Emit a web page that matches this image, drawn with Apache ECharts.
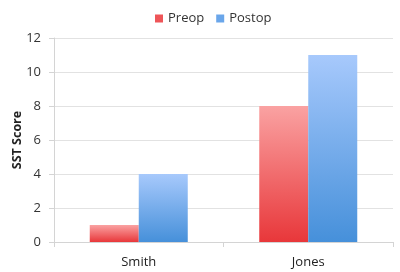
<!DOCTYPE html>
<html><head><meta charset="utf-8">
<script src="https://cdn.jsdelivr.net/npm/echarts@6/dist/echarts.min.js"></script>
<style>html,body{margin:0;padding:0;background:#fff}#c{width:400px;height:272px}</style>
</head><body><div id="c"></div>
<script>
const categories = ["Smith", "Jones"];
const seriesNames = ["Preop", "Postop"];
const preop = [1, 8];
const postop = [4, 11];
const yTicks = [0, 2, 4, 6, 8, 10, 12];

const grad = (top, bottom) => new echarts.graphic.LinearGradient(0, 0, 0, 1, [
  {offset: 0, color: top}, {offset: 1, color: bottom}
]);
const redG = grad('#faa2a2', '#e8373a');
const blueG = grad('#a7c9fc', '#4690da');
const font = '"Open Sans", sans-serif';

const chart = echarts.init(document.getElementById('c'), null, {renderer: 'canvas'});
chart.setOption({
  animation: false,
  textStyle: {fontFamily: font},
  legend: {
    top: 7, left: 150, itemWidth: 8, itemHeight: 8, itemGap: 12,
    icon: 'rect',
    textStyle: {fontSize: 13, color: '#333', fontFamily: font},
    data: [
      {name: seriesNames[0], itemStyle: {color: '#ee5558'}},
      {name: seriesNames[1], itemStyle: {color: '#6aa6ea'}}
    ]
  },
  grid: {left: 54, right: 7, top: 38, bottom: 30, containLabel: false, outerBoundsMode: 'none'},
  xAxis: {
    type: 'category', data: categories,
    axisLine: {lineStyle: {color: '#d4d4d4'}},
    axisTick: {show: true, alignWithLabel: false, length: 5, lineStyle: {color: '#d4d4d4'}},
    axisLabel: {fontSize: 13, color: '#222', margin: 14, fontFamily: font}
  },
  yAxis: {
    type: 'value', min: yTicks[0], max: yTicks[yTicks.length - 1], interval: 2,
    name: 'SST Score', nameLocation: 'middle', nameGap: 30, nameMoveOverlap: false,
    nameTextStyle: {fontSize: 12.5, fontWeight: 'bold', color: '#222', fontFamily: font},
    axisLine: {show: true, lineStyle: {color: '#d4d4d4'}},
    axisTick: {show: true, length: 5, lineStyle: {color: '#d4d4d4'}},
    axisLabel: {fontSize: 13, color: '#333', margin: 13, fontFamily: font},
    splitLine: {lineStyle: {color: '#e2e2e2', width: 1}}
  },
  series: [
    {name: seriesNames[0], type: 'bar', data: preop, barWidth: 49, barGap: '0%',
     itemStyle: {color: redG}},
    {name: seriesNames[1], type: 'bar', data: postop, barWidth: 49, barGap: '0%',
     itemStyle: {color: blueG}}
  ]
});
</script></body></html>
